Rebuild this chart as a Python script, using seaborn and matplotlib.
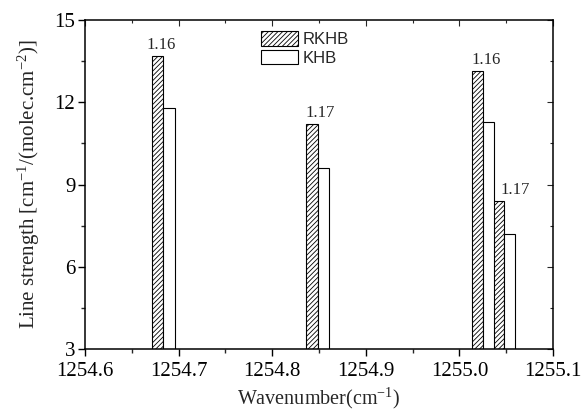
import matplotlib
matplotlib.use("Agg")
import matplotlib.pyplot as plt
import seaborn as sns
from matplotlib.ticker import MultipleLocator, FormatStrFormatter

# -----------------------------
# DATA
# -----------------------------
series = ["RKHB", "KHB"]
rkhb_pos = [1254.6773, 1254.8427, 1255.0193, 1255.0416]
rkhb_val = [13.69, 11.20, 13.14, 8.39]
khb_pos = [1254.6897, 1254.8548, 1255.0311, 1255.0538]
khb_val = [11.78, 9.59, 11.27, 7.19]
ratio_labels = ["1.16", "1.17", "1.16", "1.17"]

# -----------------------------
# STYLE
# -----------------------------
sns.set_style("ticks")
plt.rcParams["font.family"] = ["Liberation Serif", "DejaVu Serif"]
plt.rcParams["mathtext.default"] = "regular"
plt.rcParams["hatch.linewidth"] = 0.6
plt.rcParams["hatch.color"] = "#222222"

fig = plt.figure(figsize=(5.85, 4.17), dpi=100)
ax = fig.add_axes([0.1453, 0.163, 0.800, 0.789])

bar_w = 0.0122
ax.bar(rkhb_pos, rkhb_val, width=bar_w, color="white", edgecolor="black",
       linewidth=0.8, hatch="///////", label=series[0])
ax.bar(khb_pos, khb_val, width=bar_w, color="white", edgecolor="black",
       linewidth=0.8, label=series[1])

# ratio labels above each pair
label_shift = [-1.5, 2.0, 2.0, 8.0]  # points
for i, txt in enumerate(ratio_labels):
    xc = (rkhb_pos[i] + khb_pos[i]) / 2
    ax.annotate(txt, xy=(xc, rkhb_val[i]), xytext=(label_shift[i], 5),
                textcoords="offset points", ha="center", va="baseline",
                fontsize=12)

ax.set_xlim(1254.6, 1255.1)
ax.set_ylim(3, 15)
ax.xaxis.set_major_locator(MultipleLocator(0.1))
ax.xaxis.set_minor_locator(MultipleLocator(0.05))
ax.yaxis.set_major_locator(MultipleLocator(3))
ax.yaxis.set_minor_locator(MultipleLocator(1.5))
ax.xaxis.set_major_formatter(FormatStrFormatter("%.1f"))

ax.tick_params(which="major", direction="out", length=5, width=1.0,
               labelsize=15, colors="black")
ax.tick_params(axis="x", which="major", pad=4)
ax.tick_params(axis="y", which="major", pad=2)
ax.tick_params(which="minor", direction="out", length=3, width=1.0)

for side in ["top", "right", "left", "bottom"]:
    ax.spines[side].set_visible(True)
    ax.spines[side].set_linewidth(1.1)
    ax.spines[side].set_color("black")

# inward ticks on top and right, no labels
top = ax.secondary_xaxis("top")
top.xaxis.set_major_locator(MultipleLocator(0.1))
top.xaxis.set_minor_locator(MultipleLocator(0.05))
top.tick_params(which="major", direction="in", length=4, width=0.8, labeltop=False)
top.tick_params(which="minor", direction="in", length=2.5, width=0.8)
top.spines["top"].set_visible(False)
right = ax.secondary_yaxis("right")
right.yaxis.set_major_locator(MultipleLocator(3))
right.yaxis.set_minor_locator(MultipleLocator(1.5))
right.tick_params(which="major", direction="in", length=4, width=0.8, labelright=False)
right.tick_params(which="minor", direction="in", length=2.5, width=0.8)
right.spines["right"].set_visible(False)

ax.set_xlabel("Wavenumber(cm$^{-1}$)", fontsize=14.5, labelpad=4)
ax.set_ylabel("Line strength [cm$^{-1}$/(molec.cm$^{-2}$)]", fontsize=15, labelpad=9)

leg = ax.legend(loc="upper left", bbox_to_anchor=(0.377, 0.966), frameon=False,
                borderpad=0, borderaxespad=0, handlelength=2.2, handleheight=0.95,
                handletextpad=0.3, labelspacing=0.18,
                prop={"family": "Liberation Sans", "size": 12})

fig.savefig("out.png", dpi=100)
plt.close(fig)
